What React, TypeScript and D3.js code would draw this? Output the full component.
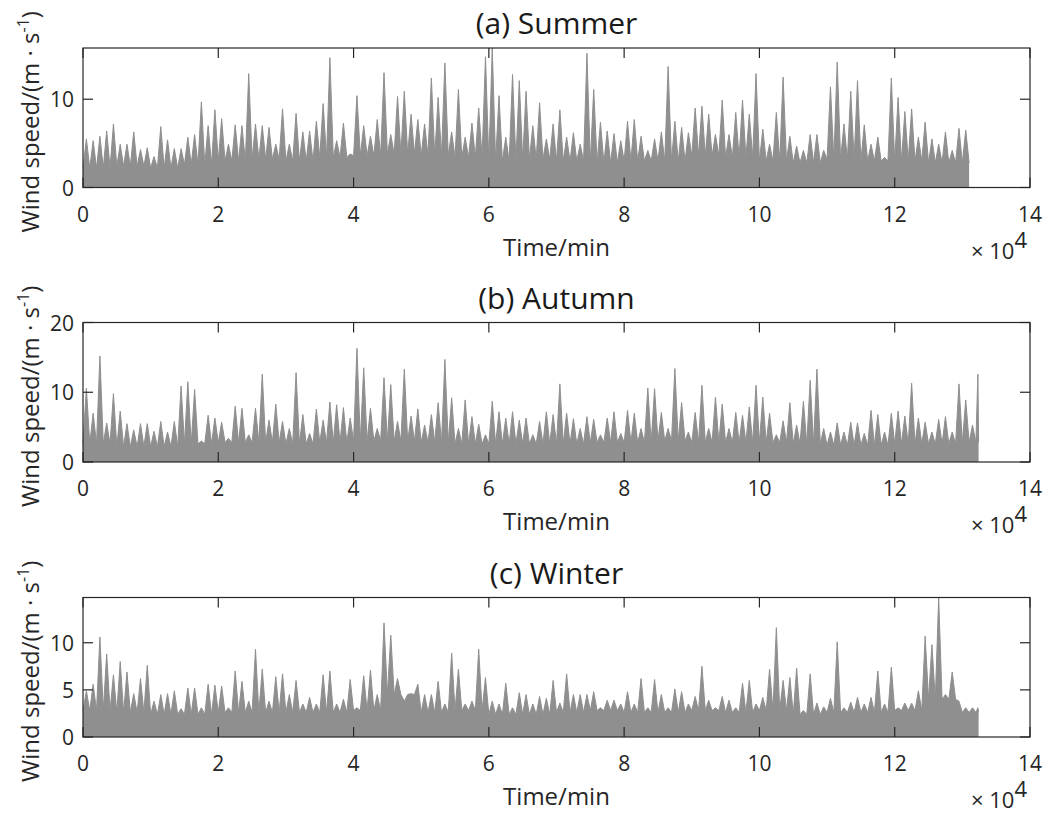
import React from 'react';
import * as d3 from 'd3';

// x tick labels (units of 10^4 min)
const X_TICKS = [0, 2, 4, 6, 8, 10, 12, 14];
const BIN = 1000; // minutes per peak bin
const CORE_BIN = 5000; // minutes per core-level bin

// Summer: max wind speed per 1000-min bin (m/s)
const summerPeaks = [
  5.5, 5.3, 5.8, 6.4, 7.2, 4.9, 4.9, 6.3, 4.3, 4.5,
  3.5, 6.9, 5.4, 4.4, 4.4, 5.7, 6.0, 9.7, 7.0, 8.8,
  7.8, 4.9, 7.1, 7.0, 12.9, 7.2, 7.0, 6.8, 4.9, 8.9,
  4.9, 8.4, 6.3, 6.4, 7.5, 9.5, 14.7, 5.3, 7.3, 3.8,
  10.4, 7.0, 5.8, 7.7, 13.0, 6.0, 10.3, 10.9, 8.3, 7.7,
  7.2, 12.4, 10.2, 14.1, 6.3, 11.1, 5.7, 7.3, 9.0, 14.8,
  15.8, 10.4, 5.7, 12.8, 12.1, 10.9, 7.0, 9.6, 5.5, 7.2,
  8.8, 5.7, 6.2, 4.9, 15.2, 11.1, 7.4, 6.4, 6.1, 5.3,
  7.5, 7.7, 5.8, 4.2, 5.5, 6.3, 13.7, 7.5, 6.8, 6.2,
  9.0, 9.2, 8.3, 6.0, 9.9, 6.0, 8.5, 9.9, 8.3, 12.9,
  6.6, 4.9, 8.5, 12.5, 5.8, 4.7, 4.2, 6.0, 6.0, 4.2,
  11.4, 14.2, 7.2, 10.9, 12.1, 7.1, 4.9, 5.7, 3.4, 12.4,
  10.2, 8.6, 8.9, 5.7, 7.4, 5.5, 4.9, 6.3, 4.2, 6.7,
  6.5,
];
// Summer: level of the dense core per 5000-min bin
const summerCore = [
  2.2, 2.4, 2.2, 2.6, 3.0, 3.2, 3.0, 3.4, 3.6, 3.8,
  3.6, 3.4, 3.0, 3.2, 3.0, 2.8, 3.0, 3.0, 3.6, 3.4,
  3.0, 2.8, 3.2, 3.0, 3.0, 2.8, 2.8,
];

// Autumn
const autumnPeaks = [
  10.6, 7.0, 15.2, 5.6, 9.8, 7.3, 5.5, 4.6, 5.5, 5.5,
  4.4, 5.8, 4.3, 5.8, 10.9, 11.5, 10.4, 3.0, 6.7, 6.3,
  5.7, 3.4, 8.0, 7.7, 3.9, 7.7, 12.6, 6.0, 8.3, 5.8,
  4.8, 12.8, 6.8, 4.1, 7.6, 6.0, 8.6, 8.2, 7.8, 6.3,
  16.3, 13.5, 7.7, 4.8, 12.1, 11.1, 5.8, 13.3, 6.6, 7.6,
  5.3, 6.8, 8.5, 14.7, 9.2, 4.8, 8.9, 6.5, 5.4, 3.9,
  8.7, 7.2, 6.3, 7.2, 6.0, 6.3, 3.9, 5.8, 7.2, 6.8,
  11.2, 7.0, 6.2, 4.8, 6.5, 6.1, 3.9, 6.3, 7.2, 4.1,
  7.4, 7.0, 4.8, 10.6, 10.5, 7.1, 4.8, 13.4, 8.5, 4.3,
  7.1, 11.0, 4.8, 9.3, 8.3, 4.8, 7.1, 6.7, 7.9, 11.0,
  9.3, 7.0, 3.9, 5.9, 8.5, 5.3, 8.7, 11.7, 13.3, 4.8,
  4.3, 5.6, 4.3, 5.7, 5.6, 4.1, 7.4, 6.8, 4.3, 7.0,
  7.3, 6.6, 11.3, 6.3, 5.7, 4.3, 6.1, 6.5, 4.3, 11.2,
  8.9, 5.3, 12.6,
];
const autumnCore = [
  2.6, 2.2, 2.2, 2.6, 2.8, 2.8, 2.6, 2.8, 3.0, 3.0,
  2.8, 2.6, 2.6, 2.6, 2.6, 2.8, 2.8, 3.0, 2.8, 2.8,
  2.8, 2.6, 2.4, 2.4, 2.6, 2.6, 2.8,
];

// Winter
const winterPeaks = [
  4.9, 5.6, 10.6, 8.8, 6.6, 8.0, 6.9, 4.6, 6.2, 7.6,
  3.8, 4.5, 4.6, 4.9, 3.0, 5.2, 5.2, 3.1, 5.6, 5.5,
  5.4, 3.1, 7.0, 5.9, 3.8, 9.3, 7.2, 3.8, 6.4, 6.7,
  4.5, 6.0, 3.5, 4.2, 3.5, 6.6, 7.0, 3.5, 4.0, 6.1,
  3.1, 6.5, 7.1, 4.5, 12.1, 10.8, 6.2, 3.8, 4.6, 5.6,
  4.5, 4.5, 5.9, 3.5, 8.9, 7.2, 3.5, 3.8, 9.3, 6.3,
  3.8, 3.5, 5.7, 3.1, 4.7, 4.5, 3.5, 4.3, 4.1, 6.0,
  3.6, 6.7, 4.5, 4.5, 4.5, 4.8, 3.1, 3.9, 3.9, 3.5,
  4.8, 3.5, 6.2, 3.1, 6.1, 4.5, 3.1, 5.1, 4.8, 3.5,
  4.3, 7.5, 3.9, 3.1, 4.3, 3.9, 3.1, 5.7, 6.0, 3.5,
  4.2, 7.2, 11.6, 6.0, 6.3, 7.3, 2.8, 6.7, 3.6, 3.2,
  4.1, 10.1, 3.1, 3.7, 4.2, 3.5, 4.2, 7.0, 3.5, 7.4,
  3.1, 3.6, 3.6, 4.9, 10.7, 9.8, 14.8, 4.5, 6.9, 3.8,
  3.1, 3.1, 3.1,
];
const winterCore = [
  2.8, 2.6, 2.4, 2.4, 2.6, 2.6, 2.6, 2.6, 2.8, 4.5,
  2.6, 2.8, 2.4, 2.4, 2.6, 2.8, 2.6, 2.6, 2.8, 2.6,
  2.8, 2.4, 2.6, 2.6, 2.8, 4.0, 2.6,
];

const panels = [
  { title: '(a) Summer', peaks: summerPeaks, core: summerCore, end: 131000, yMax: 15.8, yTicks: [0, 10], top: 48 },
  { title: '(b) Autumn', peaks: autumnPeaks, core: autumnCore, end: 132400, yMax: 20, yTicks: [0, 10, 20], top: 322.5 },
  { title: '(c) Winter', peaks: winterPeaks, core: winterCore, end: 132400, yMax: 14.8, yTicks: [0, 5, 10], top: 597.5 },
];

const LEFT = 83;
const RIGHT = 1030;
const PH = 139.5;
const GRAY = '#8f8f8f';
const AXIS = '#262626';
const FONT = "'Open Sans', 'Noto Sans', sans-serif";
const TICK_LEN = 10;

// each bin: the series swings from the core level up to the bin maximum
function buildSeries(peaks: number[], core: number[], end: number): [number, number][] {
  const pts: [number, number][] = [];
  peaks.forEach((p, i) => {
    const t0 = i * BIN;
    const c = core[Math.min(core.length - 1, Math.floor(t0 / CORE_BIN))];
    pts.push([t0, c]);
    pts.push([Math.min(t0 + BIN / 2, end - 100), p]);
  });
  pts.push([end, core[core.length - 1]]);
  return pts;
}

function Panel({ cfg }: { cfg: typeof panels[number] }) {
  const top = cfg.top;
  const bottom = top + PH;
  const x = d3.scaleLinear().domain([0, 140000]).range([LEFT, RIGHT]);
  const y = d3.scaleLinear().domain([0, cfg.yMax]).range([bottom, top]);
  const data = buildSeries(cfg.peaks, cfg.core, cfg.end);
  const area = d3.area<[number, number]>().x(d => x(d[0])).y0(y(0)).y1(d => y(d[1]));
  const line = d3.line<[number, number]>().x(d => x(d[0])).y(d => y(d[1]));
  const cx = (LEFT + RIGHT) / 2;
  return (
    <g>
      <text x={cx} y={top - 14} textAnchor="middle" fontSize={30} fontFamily={FONT} fill="#1a1a1a">{cfg.title}</text>
      <path d={area(data) || ''} fill={GRAY} stroke="none" />
      <path d={line(data) || ''} fill="none" stroke={GRAY} strokeWidth={1} strokeLinejoin="miter" />
      <rect x={LEFT} y={top} width={RIGHT - LEFT} height={PH} fill="none" stroke={AXIS} strokeWidth={1.2} />
      {X_TICKS.map(t => (
        <g key={'x' + t}>
          <line x1={x(t * 1e4)} x2={x(t * 1e4)} y1={bottom} y2={bottom - TICK_LEN} stroke={AXIS} strokeWidth={1.2} />
          <line x1={x(t * 1e4)} x2={x(t * 1e4)} y1={top} y2={top + TICK_LEN} stroke={AXIS} strokeWidth={1.2} />
          <text x={x(t * 1e4)} y={bottom + 34} textAnchor="middle" fontSize={21} fontFamily={FONT} fill="#262626">{t}</text>
        </g>
      ))}
      {cfg.yTicks.map(v => (
        <g key={'y' + v}>
          <line x1={LEFT} x2={LEFT + TICK_LEN} y1={y(v)} y2={y(v)} stroke={AXIS} strokeWidth={1.2} />
          <line x1={RIGHT} x2={RIGHT - TICK_LEN} y1={y(v)} y2={y(v)} stroke={AXIS} strokeWidth={1.2} />
          <text x={LEFT - 9} y={y(v) + 8} textAnchor="end" fontSize={21} fontFamily={FONT} fill="#262626">{v}</text>
        </g>
      ))}
      <text x={cx} y={bottom + 68} textAnchor="middle" fontSize={24} fontFamily={FONT} fill="#262626">Time/min</text>
      <text x={RIGHT - 3} y={bottom + 71} textAnchor="end" fontSize={22} fontFamily={FONT} fill="#262626">
        <tspan>× 10</tspan>
        <tspan dy={-11}>4</tspan>
      </text>
      <text
        transform={`translate(${39},${(top + bottom) / 2 + 4}) rotate(-90)`}
        textAnchor="middle"
        fontSize={24}
        fontFamily={FONT}
        fill="#262626"
      >
        <tspan>Wind speed/(m · s</tspan>
        <tspan fontSize={16} dy={-10}>-1</tspan>
        <tspan dy={10}>)</tspan>
      </text>
    </g>
  );
}

export default function App() {
  return (
    <svg
      width={1043}
      height={813}
      style={{ position: 'absolute', left: 0, top: 0, background: '#fff', display: 'block' }}
    >
      <rect x={0} y={0} width={1043} height={813} fill="#fff" />
      {panels.map(p => (
        <Panel key={p.title} cfg={p} />
      ))}
    </svg>
  );
}
